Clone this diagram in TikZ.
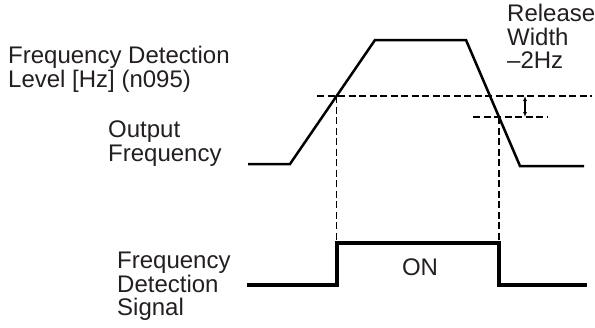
\documentclass[tikz,border=0pt]{standalone}
\usepackage{fontspec}
\setmainfont{Liberation Sans}
\usetikzlibrary{arrows.meta}
\definecolor{inkgray}{HTML}{231F20}

\begin{document}
\begin{tikzpicture}[x=1pt, y=-1pt,
  lbl/.style={inner sep=0pt, anchor=north west, align=left, text=inkgray, font=\fontsize{24}{23.5}\selectfont},
  wave/.style={line width=2.5pt},
  sig/.style={line width=3.8pt},
  lvl/.style={line width=1.4pt, dash pattern=on 7pt off 3.5pt}]
\useasboundingbox (0,0) rectangle (595,327);
% output frequency
\coordinate (of0) at (248,164);
\coordinate (of1) at (290,164);
\coordinate (of2) at (375,40);
\coordinate (of3) at (466,40);
\coordinate (of4) at (520,166);
\coordinate (of5) at (584,166);
\draw[wave] (of0) -- (of1) -- (of2) -- (of3) -- (of4) -- (of5);
% detection level and release level
\coordinate (lv0) at (317,96);
\coordinate (lv1) at (592,96);
\coordinate (rl0) at (473,117);
\coordinate (rl1) at (548,117);
\coordinate (up) at (intersection of of1--of2 and lv0--lv1);
\coordinate (dn) at (intersection of of3--of4 and rl0--rl1);
\draw[lvl] (lv0) -- (lv1);
\draw[lvl] (rl0) -- (rl1);
\coordinate (rw0) at (525,96);
\coordinate (rw1) at (525,117);
\draw[{Latex[length=5pt,width=4pt]}-{Latex[length=5pt,width=4pt]}, line width=1.4pt] (rw0) -- (rw1);
% detection signal
\coordinate (sg0) at (247,285);
\coordinate (sgtop) at (0,243);
\coordinate (sg5) at (587,285);
\draw[lvl, line width=1.2pt] (up) -- (up |- sgtop);
\draw[lvl, line width=1.2pt] (dn) -- (dn |- sgtop);
\draw[sig] (sg0) -- (up |- sg0) -- (up |- sgtop) -- (dn |- sgtop) -- (dn |- sg0) -- (sg5);
\node[lbl, anchor=center] (on) at (420,267) {ON};
% labels
\node[lbl] (level) at (8,46) {Frequency Detection\\Level [Hz] (n095)};
\node[lbl] (outfreq) at (108,121) {Output\\Frequency};
\node[lbl] (detsig) at (117,252) {Frequency\\Detection\\Signal};
\node[lbl] (release) at (507,4) {Release\\Width\\\textendash2Hz};
\end{tikzpicture}
\end{document}
